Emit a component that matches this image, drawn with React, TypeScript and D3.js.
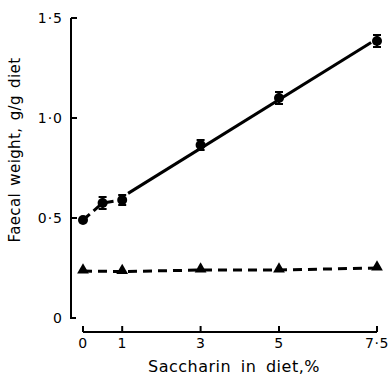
import React from "react";
import * as d3 from "d3";

const saccharin = [0, 0.5, 1, 3, 5, 7.5];
const faecalWeight = [0.49, 0.575, 0.59, 0.865, 1.1, 1.385];
const faecalErr = [0, 0.03, 0.025, 0.025, 0.03, 0.03];
const controlX = [0, 1, 3, 5, 7.5];
const controlY = [0.235, 0.232, 0.24, 0.24, 0.25];
const xTicks = [0, 1, 3, 5, 7.5];
const xTickLabels = ["0", "1", "3", "5", "7·5"];
const yTicks = [0, 0.5, 1.0, 1.5];
const yTickLabels = ["0", "0·5", "1·0", "1·5"];

export default function App() {
  const W = 391, H = 375;
  const x = d3.scaleLinear().domain([0, 7.5]).range([83, 377]);
  const y = d3.scaleLinear().domain([0, 1.5]).range([318, 18]);
  const yAxisX = 71;
  const xAxisY = 332;
  const font = "'DejaVu Sans', 'Liberation Sans', Arial, sans-serif";

  // regression over points with x >= 1
  const fitPts = saccharin.map((s, i) => [s, faecalWeight[i]]).filter((p) => p[0] >= 1);
  const mx = d3.mean(fitPts, (p) => p[0])!;
  const my = d3.mean(fitPts, (p) => p[1])!;
  const b = d3.sum(fitPts, (p) => (p[0] - mx) * (p[1] - my)) / d3.sum(fitPts, (p) => (p[0] - mx) ** 2);
  const a = my - b * mx;
  const fitLine = d3.line<number>().x((d) => x(d)).y((d) => y(a + b * d));

  const lowPts = saccharin.map((s, i) => [s, faecalWeight[i]] as [number, number]).filter((p) => p[0] <= 1);
  const line = d3.line<[number, number]>().x((d) => x(d[0])).y((d) => y(d[1]));
  const ctrlLine = d3.line<number>().x((d, i) => x(controlX[i])).y((d) => y(d));
  const tri = d3.symbol().type(d3.symbolTriangle).size(60)();

  return (
    <svg width={W} height={H} style={{ position: "absolute", left: 0, top: 0, background: "#fff" }}>
      {/* y axis */}
      <path d={`M${yAxisX},${y(1.5)}V${y(0)}h5`} fill="none" stroke="#000" strokeWidth={2} />
      {yTicks.map((t, i) => (
        <g key={i}>
          {t > 0 && <line x1={yAxisX} x2={yAxisX + 6} y1={y(t)} y2={y(t)} stroke="#000" strokeWidth={2} />}
          <text x={63} y={y(t) + 5} textAnchor="end" fontSize={14} fontFamily={font} letterSpacing={1}>
            {yTickLabels[i]}
          </text>
        </g>
      ))}
      <text
        transform={`translate(20,150) rotate(-90)`}
        textAnchor="middle"
        fontSize={15}
        fontFamily={font}
        letterSpacing={0.4}
        wordSpacing={2}
      >
        Faecal weight, g/g diet
      </text>
      {/* x axis */}
      <path d={`M${x(0)},${xAxisY}H${x(7.5)}`} fill="none" stroke="#000" strokeWidth={2} />
      {xTicks.map((t, i) => (
        <g key={i}>
          <line x1={x(t)} x2={x(t)} y1={xAxisY} y2={xAxisY - 6} stroke="#000" strokeWidth={2} />
          <text x={x(t)} y={xAxisY + 16} textAnchor="middle" fontSize={14} fontFamily={font} letterSpacing={0.5}>
            {xTickLabels[i]}
          </text>
        </g>
      ))}
      <text x={234} y={372} textAnchor="middle" fontSize={16} fontFamily={font} letterSpacing={0.5} wordSpacing={4}>
        Saccharin in diet,%
      </text>
      {/* control dashed */}
      <path d={ctrlLine(controlY)!} fill="none" stroke="#000" strokeWidth={3} strokeDasharray="9,6" />
      {controlY.map((v, i) => (
        <path key={i} d={tri!} transform={`translate(${x(controlX[i])},${y(v) - 1})`} fill="#000" />
      ))}
      {/* saccharin */}
      <path d={line(lowPts)!} fill="none" stroke="#000" strokeWidth={3} strokeDasharray="9,5" />
      <path d={fitLine([1.15, 7.35])!} fill="none" stroke="#000" strokeWidth={3} />
      {saccharin.map((s, i) => (
        <g key={i}>
          {faecalErr[i] > 0 && (
            <g stroke="#000" strokeWidth={2}>
              <line x1={x(s)} x2={x(s)} y1={y(faecalWeight[i] - faecalErr[i])} y2={y(faecalWeight[i] + faecalErr[i])} />
              <line x1={x(s) - 4} x2={x(s) + 4} y1={y(faecalWeight[i] - faecalErr[i])} y2={y(faecalWeight[i] - faecalErr[i])} />
              <line x1={x(s) - 4} x2={x(s) + 4} y1={y(faecalWeight[i] + faecalErr[i])} y2={y(faecalWeight[i] + faecalErr[i])} />
            </g>
          )}
          <circle cx={x(s)} cy={y(faecalWeight[i])} r={5} fill="#000" />
        </g>
      ))}
    </svg>
  );
}
